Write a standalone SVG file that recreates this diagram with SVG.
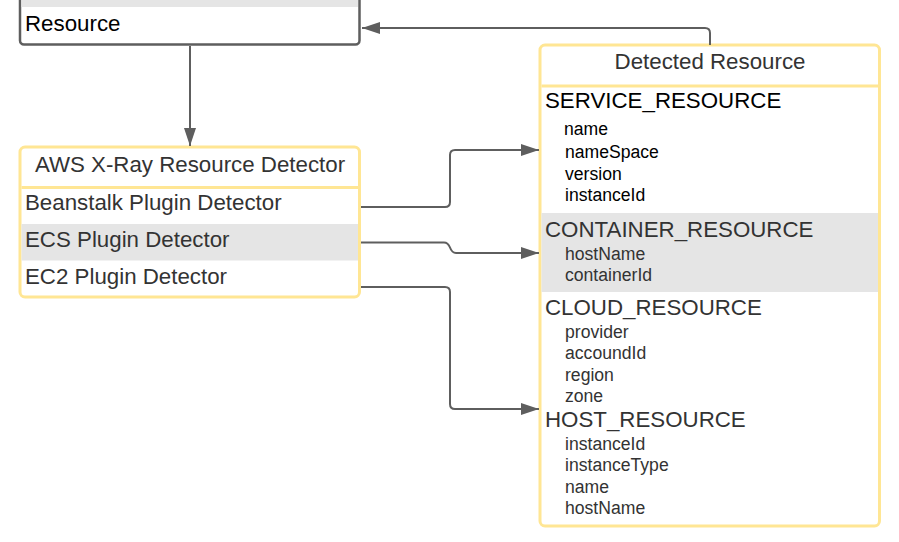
<svg xmlns="http://www.w3.org/2000/svg" width="899" height="542" viewBox="0 0 899 542">
<style>
text{font-family:"Liberation Sans",Arial,sans-serif;fill:#333}
.h{font-size:22.3px}
.f{font-size:17.6px}
.blk{fill:#000}
.box{fill:#fff;stroke:#ffe694;stroke-width:3}
.sep{stroke:#ffe694;stroke-width:3}
.band{fill:#e5e5e5}
.con{fill:none;stroke:#5e5e5e;stroke-width:2}
</style>
<defs>
<marker id="arr" markerUnits="userSpaceOnUse" markerWidth="18" markerHeight="12" refX="18" refY="6" orient="auto">
<path d="M0,0 L18,6 L0,12 z" fill="#5e5e5e"/>
</marker>
</defs>
<rect width="899" height="542" fill="#fff"/>
<g id="resource">
<rect x="20" y="-40" width="339.5" height="84.5" rx="4" fill="#fff" stroke="#5e5e5e" stroke-width="2.5"/>
<rect x="21.5" y="-38" width="336.5" height="45" class="band"/>
<text x="25" y="31" class="h blk">Resource</text>
</g>
<g id="aws-detector">
<rect x="20" y="147" width="339.5" height="150" rx="5" class="box"/>
<rect x="21.5" y="224" width="336.5" height="36.5" class="band"/>
<line x1="21.5" y1="187.5" x2="358" y2="187.5" class="sep"/>
<text x="190" y="172" class="h" text-anchor="middle">AWS X-Ray Resource Detector</text>
<text x="25" y="210" class="h">Beanstalk Plugin Detector</text>
<text x="25" y="247" class="h">ECS Plugin Detector</text>
<text x="25" y="284" class="h">EC2 Plugin Detector</text>
</g>
<g id="detected-resource">
<rect x="540" y="45" width="339.5" height="481" rx="5" class="box"/>
<rect x="541.5" y="213" width="336.5" height="79" class="band"/>
<line x1="541.5" y1="86" x2="878" y2="86" class="sep"/>
<text x="710" y="69" class="h" text-anchor="middle">Detected Resource</text>
<text x="545" y="108" class="h blk">SERVICE_RESOURCE</text>
<text x="564" y="135" class="f blk">name</text>
<text x="565" y="158" class="f blk">nameSpace</text>
<text x="565" y="180" class="f blk">version</text>
<text x="565" y="201" class="f blk">instanceId</text>
<text x="545" y="237" class="h">CONTAINER_RESOURCE</text>
<text x="565" y="260" class="f">hostName</text>
<text x="565" y="281" class="f">containerId</text>
<text x="545" y="315" class="h">CLOUD_RESOURCE</text>
<text x="565" y="338" class="f">provider</text>
<text x="565" y="359" class="f">accoundId</text>
<text x="565" y="381" class="f">region</text>
<text x="565" y="402" class="f">zone</text>
<text x="545" y="427" class="h">HOST_RESOURCE</text>
<text x="565" y="450" class="f">instanceId</text>
<text x="565" y="471" class="f">instanceType</text>
<text x="565" y="493" class="f">name</text>
<text x="565" y="514" class="f">hostName</text>
</g>
<g id="connectors">
<path class="con" marker-end="url(#arr)" d="M710,45 L710,33 Q710,28 705,28 L362,28"/>
<path class="con" marker-end="url(#arr)" d="M190,46 L190,146"/>
<path class="con" marker-end="url(#arr)" d="M361,207 L445,207 Q450,207 450,202 L450,155 Q450,150 455,150 L539,150"/>
<path class="con" marker-end="url(#arr)" d="M361,242.5 L444,242.5 Q448,242.5 450,247.5 Q452,253 456,253 L539,253"/>
<path class="con" marker-end="url(#arr)" d="M361,287 L445,287 Q450,287 450,292 L450,404 Q450,409 455,409 L539,409"/>
</g>
</svg>
